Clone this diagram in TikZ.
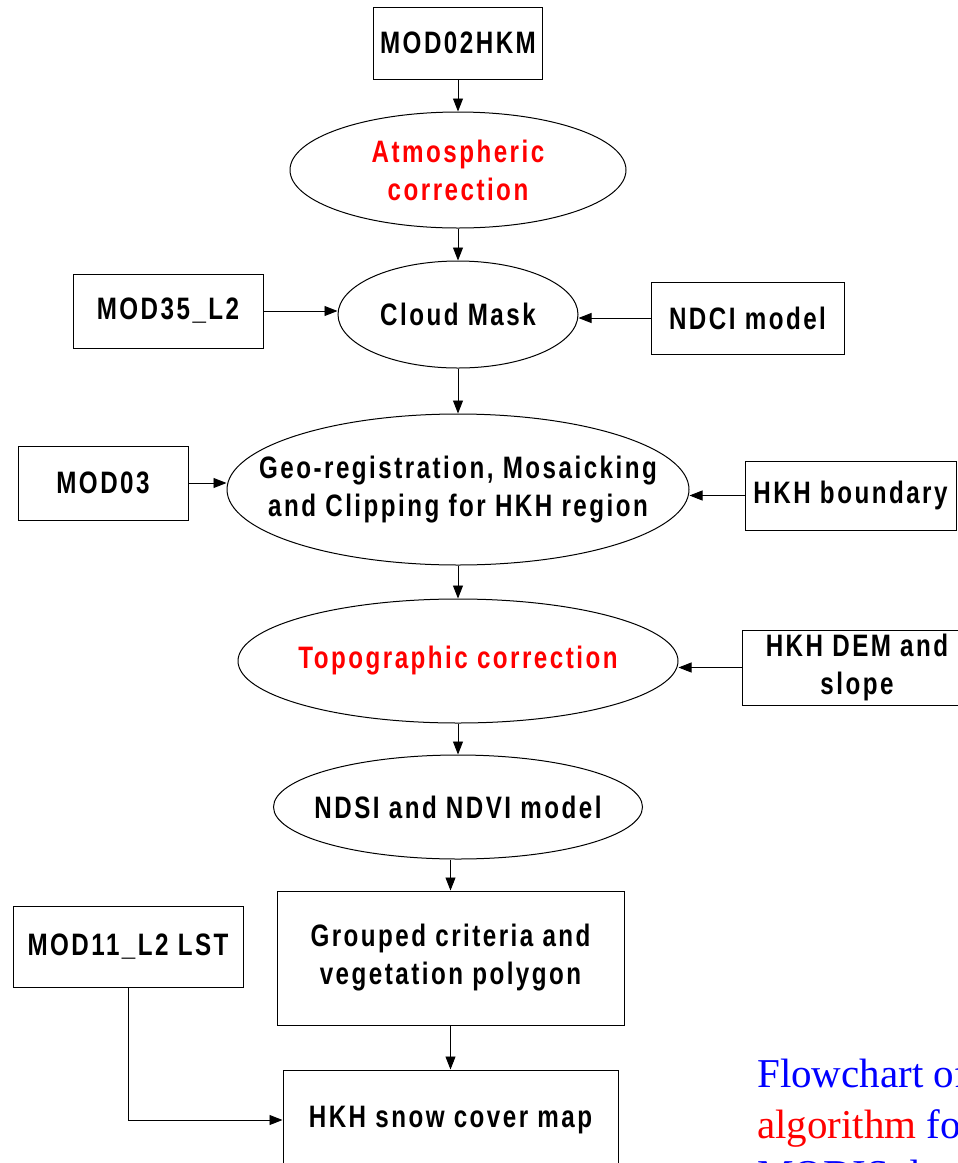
\documentclass[tikz,border=0pt]{standalone}
\usepackage{fontspec}
\setmainfont{Liberation Sans}
\newfontfamily\chartfont{Liberation Sans}[FakeStretch=0.78,LetterSpace=8]
\newfontfamily\notefont{Liberation Serif}
\usetikzlibrary{arrows.meta,shapes.geometric}

\begin{document}
\begin{tikzpicture}[x=1pt,y=-1pt,
    box/.style={draw,line width=1pt,inner sep=0pt,align=center,
      font=\chartfont\bfseries\fontsize{31}{38}\selectfont},
    oval/.style={box,ellipse,inner xsep=-110pt},
    note/.style={inner sep=0pt,font=\notefont\fontsize{41}{50}\selectfont},
    arr/.style={line width=0.9pt,-{Triangle[length=13pt,width=10pt]}}]
    \useasboundingbox (0,0) rectangle (958,1163);
    \clip (0,0) rectangle (958,1163);
    \fill[white] (0,0) rectangle (958,1163);
    % main column
    \node[box,minimum width=169,minimum height=72] (hkm) at (458,43) {MOD02HKM};
    \node[oval,text=red,minimum width=336,minimum height=116] (atm) at (458,170) {Atmospheric\\correction};
    \node[oval,minimum width=240,minimum height=107] (cld) at (458,314.5) {Cloud Mask};
    \node[oval,minimum width=462,minimum height=151] (geo) at (458,489.5) {Geo-registration, Mosaicking\\and Clipping for HKH region};
    \node[oval,text=red,minimum width=440,minimum height=124] (topo) at (458,661) {Topographic correction};
    \node[oval,minimum width=369,minimum height=104] (ndsi) at (458,807) {NDSI and NDVI model};
    \node[box,minimum width=347,minimum height=134] (grp) at (450.5,958) {Grouped criteria and\\vegetation polygon};
    \node[box,minimum width=335,minimum height=100] (snow) at (450.5,1120) {HKH snow cover map};
    % inputs at the sides
    \node[box,minimum width=190,minimum height=74] (m35) at (168,311) {MOD35\_L2};
    \node[box,minimum width=193,minimum height=72] (ndci) at (747.5,318) {NDCI model};
    \node[box,minimum width=170,minimum height=74] (m03) at (103,483) {MOD03};
    \node[box,minimum width=211,minimum height=69] (hkhb) at (850.5,495.5) {HKH boundary};
    \node[box,minimum width=230,minimum height=75] (dem) at (857,667.5) {HKH DEM and\\slope};
    \node[box,minimum width=230,minimum height=81] (m11) at (128,946.5) {MOD11\_L2 LST};
    % arrows
    \draw[arr] (hkm.south) -- (atm.north);
    \draw[arr] (atm.south) -- (cld.north);
    \draw[arr] (cld.south) -- (geo.north);
    \draw[arr] (geo.south) -- (topo.north);
    \draw[arr] (topo.south) -- (ndsi.north);
    \draw[arr] (ndsi.south -| grp.north) -- (grp.north);
    \draw[arr] (grp.south) -- (snow.north);
    \draw[arr] (m35.east) -- (m35.east -| cld.west);
    \draw[arr] (ndci.west) -- (ndci.west -| cld.east);
    \draw[arr] (m03.east) -- (m03.east -| geo.west);
    \draw[arr] (hkhb.west) -- (hkhb.west -| geo.east);
    \draw[arr] (dem.west) -- (dem.west -| topo.east);
    \draw[arr] (m11.south) |- (snow.west);
    % caption
    \node[note,anchor=base west,text=blue] (cap1) at (757,1087) {Flowchart of};
    \node[note,anchor=base west] (cap2) at (757,1138) {\textcolor{red}{algorithm} \textcolor{blue}{for}};
    \node[note,anchor=base west,text=blue] (cap3) at (757,1188) {MODIS d};
\end{tikzpicture}
\end{document}
